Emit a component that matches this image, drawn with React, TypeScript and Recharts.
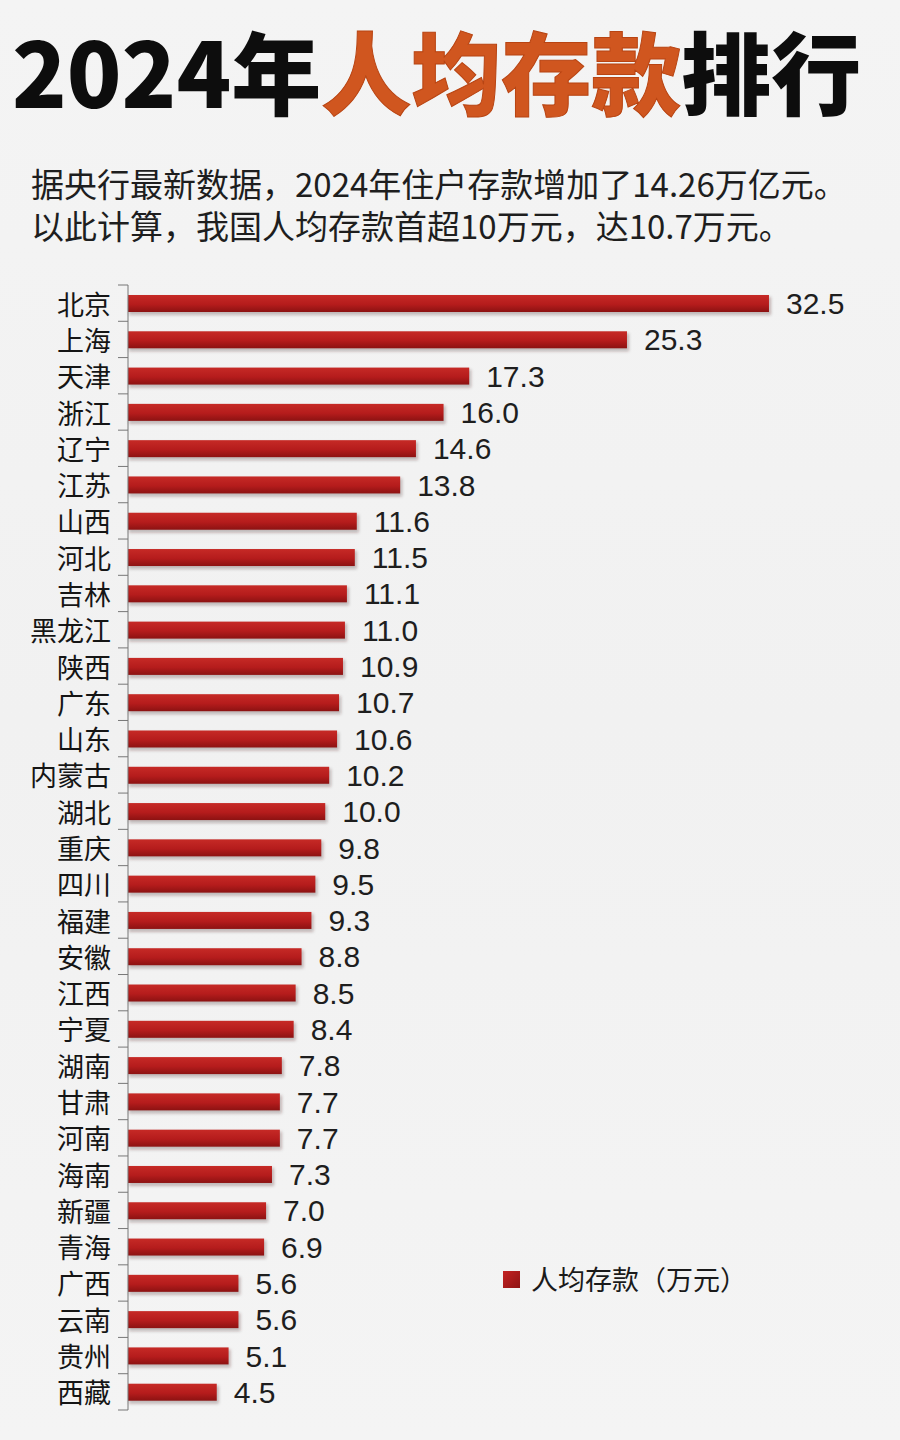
import React from 'react';
import { BarChart, Bar, XAxis, YAxis, LabelList, Legend } from 'recharts';

const provinces = ['北京','上海','天津','浙江','辽宁','江苏','山西','河北','吉林','黑龙江','陕西','广东','山东','内蒙古','湖北','重庆','四川','福建','安徽','江西','宁夏','湖南','甘肃','河南','海南','新疆','青海','广西','云南','贵州','西藏'];
const deposits = [32.5,25.3,17.3,16.0,14.6,13.8,11.6,11.5,11.1,11.0,10.9,10.7,10.6,10.2,10.0,9.8,9.5,9.3,8.8,8.5,8.4,7.8,7.7,7.7,7.3,7.0,6.9,5.6,5.6,5.1,4.5];
const seriesName = '人均存款（万元）';
const titleParts = ['2024年', '人均存款', '排行'];
const subtitleLines = ['据央行最新数据，2024年住户存款增加了14.26万亿元。', '以此计算，我国人均存款首超10万元，达10.7万元。'];

const data = provinces.map((name, i) => ({ name, value: deposits[i] }));

const W = 900;
const H = 1440;
const MT = 285;
const MB = 30;
const HALF_BAND = (H - MT - MB) / provinces.length / 2;

const CJK = '"Noto Sans CJK SC", "Noto Sans", sans-serif';
const LAT = '"Liberation Sans", Arial, sans-serif';

const CategoryTick = (props: any) => {
  const { x, y, payload, index } = props;
  const last = index === provinces.length - 1;
  return (
    <g>
      <line x1={x - 10} x2={x} y1={y - HALF_BAND} y2={y - HALF_BAND} stroke="#777" strokeWidth={1} />
      {last && <line x1={x - 10} x2={x} y1={y + HALF_BAND} y2={y + HALF_BAND} stroke="#777" strokeWidth={1} />}
      <text x={x - 17} y={y} textAnchor="end" dominantBaseline="central" fontSize={27} fill="#151515" fontFamily={CJK}>
        {payload.value}
      </text>
    </g>
  );
};

const BarShape = (props: any) => {
  const { x, y, width, height } = props;
  if (!width || width <= 0) return null;
  return (
    <g>
      <rect x={x + 1} y={y + 2} width={width + 1} height={height + 1} fill="rgba(60,20,20,0.28)" filter="url(#barBlur)" />
      <rect x={x} y={y} width={width} height={height} fill="url(#barGrad)" />
    </g>
  );
};

const LegendContent = (props: any) => {
  const { payload } = props;
  return (
    <div style={{ display: 'flex', alignItems: 'center' }}>
      {(payload || []).map((p: any) => (
        <div key={p.value} style={{ display: 'flex', alignItems: 'center' }}>
          <div style={{ width: 17, height: 17, background: 'linear-gradient(135deg,#c42222,#8e1414)', marginRight: 11 }} />
          <span style={{ fontFamily: CJK, fontSize: 27, color: '#1a1a1a', lineHeight: '30px' }}>{p.value}</span>
        </div>
      ))}
    </div>
  );
};

export default function App() {
  return (
    <div style={{ position: 'absolute', left: 0, top: 0, width: W, height: H, background: 'linear-gradient(180deg,#f4f4f4,#f1f1f1 50%,#f4f4f4)', overflow: 'hidden' }}>
      <svg width={0} height={0} style={{ position: 'absolute' }}>
        <defs>
          <linearGradient id="barGrad" x1="0" y1="0" x2="0" y2="1">
            <stop offset="0%" stopColor="#c62a26" />
            <stop offset="55%" stopColor="#b51c1c" />
            <stop offset="100%" stopColor="#8c1212" />
          </linearGradient>
          <filter id="barBlur" x="-5%" y="-50%" width="110%" height="200%">
            <feGaussianBlur stdDeviation="1.5" />
          </filter>
        </defs>
      </svg>
      <BarChart
        width={W}
        height={H}
        data={data}
        layout="vertical"
        margin={{ top: MT, right: 62, bottom: MB, left: 0 }}
        barSize={17}
      >
        <XAxis type="number" domain={[0, 36]} hide />
        <YAxis
          type="category"
          dataKey="name"
          width={128}
          axisLine={{ stroke: '#777', strokeWidth: 1 }}
          tickLine={false}
          tickSize={0}
          tickMargin={0}
          interval={0}
          tick={<CategoryTick />}
        />
        <Legend
          layout="horizontal"
          verticalAlign="middle"
          align="center"
          content={<LegendContent />}
          wrapperStyle={{ position: 'absolute', left: 503, top: 1264, width: 300 }}
        />
        <Bar dataKey="value" name={seriesName} fill="#b51c1c" shape={<BarShape />} isAnimationActive={false}>
          <LabelList
            dataKey="value"
            position="right"
            offset={17}
            formatter={(v: any) => Number(v).toFixed(1)}
            style={{ fontSize: 30, fill: '#1e1e1e', fontFamily: LAT }}
          />
        </Bar>
      </BarChart>
      <svg width={W} height={160} style={{ position: 'absolute', left: 0, top: 0 }}>
        <text x={12} y={108} fontFamily={CJK} fontWeight={900} fontSize={90}>
          <tspan fill="#0d0d0d">{titleParts[0]}</tspan>
          <tspan fill="#d0561f" stroke="#b84412" strokeWidth={1}>{titleParts[1]}</tspan>
          <tspan fill="#0d0d0d">{titleParts[2]}</tspan>
        </text>
      </svg>
      <div style={{ position: 'absolute', left: 31, top: 162, fontFamily: CJK, fontSize: 33, lineHeight: '42px', color: '#1e1e1e', whiteSpace: 'nowrap' }}>
        {subtitleLines.map((l) => (
          <div key={l}>{l}</div>
        ))}
      </div>
    </div>
  );
}
